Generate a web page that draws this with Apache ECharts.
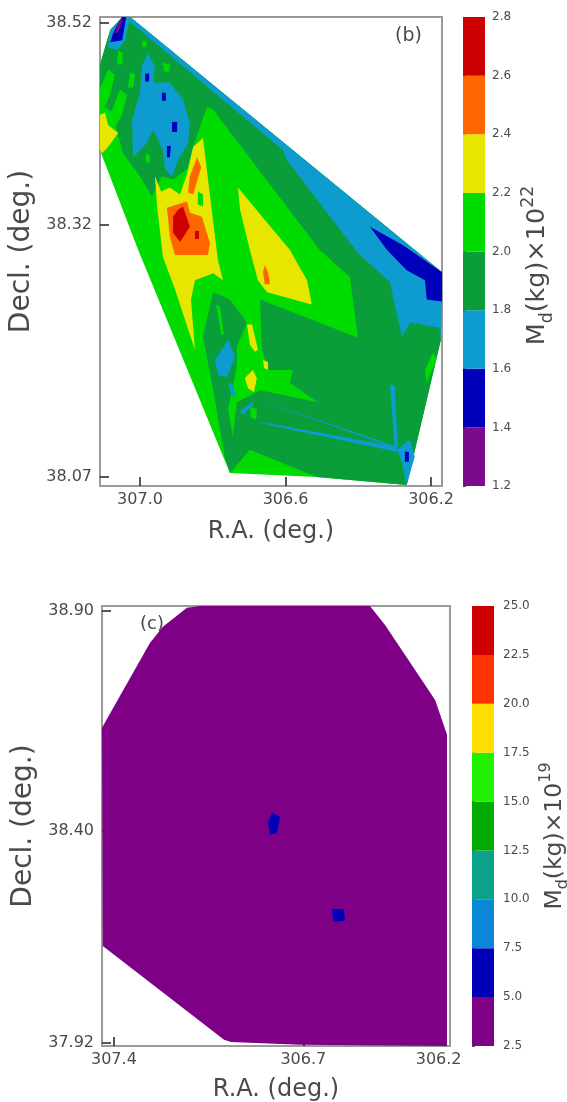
<!DOCTYPE html>
<html><head><meta charset="utf-8">
<style>html,body{margin:0;padding:0;background:#fff}#c{width:567px;height:1102px;filter:blur(0.6px)}</style>
<script src="https://cdn.jsdelivr.net/npm/echarts@6/dist/echarts.min.js"></script>
</head><body><div id="c"></div>
<script>
// ---------- colour scales ----------
const levelsB = [1.2,1.4,1.6,1.8,2.0,2.2,2.4,2.6,2.8];
const coloursB = ['#7b0a8c','#0000bb','#0d9bd0','#0a9e3a','#00dc00','#e6e600','#ff6600','#cc0000'];
const levelsC = [2.5,5,7.5,10,12.5,15,17.5,20,22.5,25];
const coloursC = ['#7d0087','#0000b8','#0a87d8','#0aa38a','#00aa00','#22f000','#ffdd00','#ff3300','#cc0000'];

// ---------- axis ticks ----------
const raTicksB = [307.0,306.6,306.2];
const decTicksB = [38.52,38.32,38.07];
const raTicksC = [307.4,306.7,306.2];
const decTicksC = [38.90,38.40,37.92];

// ---------- panel (b) contour regions, [R.A., Decl.], band = index into levelsB ----------
const outlineB = [[307.049,38.526],[307.027,38.526],[306.170,38.273],[306.173,38.206],[306.267,38.062],[306.514,38.070],[306.753,38.074],[307.005,38.295],[307.110,38.394],[307.110,38.479],[307.082,38.513]];
const darkB = [[307.049,38.525],[307.027,38.526],[306.170,38.273],[306.173,38.206],[306.267,38.062],[306.514,38.070],[306.698,38.097],[306.753,38.074],[306.767,38.090],[306.799,38.156],[306.827,38.209],[306.799,38.253],[306.753,38.246],[306.670,38.246],[306.401,38.208],[306.423,38.268],[306.506,38.295],[306.799,38.434],[306.816,38.437],[306.854,38.397],[306.871,38.375],[306.909,38.365],[306.940,38.368],[306.967,38.348],[307.000,38.368],[307.047,38.391],[307.077,38.432],[307.110,38.439],[307.110,38.479],[307.082,38.513]];
const brightColumnB = [[306.753,38.246],[306.706,38.259],[306.670,38.246],[306.665,38.196],[306.648,38.176],[306.580,38.176],[306.588,38.163],[306.511,38.144],[306.670,38.156],[306.734,38.144],[306.745,38.110],[306.758,38.137],[306.734,38.179],[306.734,38.199],[306.706,38.223]];
const bright1B = [[307.060,38.493],[307.047,38.490],[307.049,38.479],[307.063,38.479]];
const bright2B = [[307.088,38.474],[307.069,38.469],[307.082,38.449],[307.102,38.434],[307.110,38.439],[307.110,38.454]];
const bright3B = [[307.027,38.471],[307.014,38.469],[307.019,38.456],[307.033,38.456]];
const bright4B = [[307.055,38.454],[307.036,38.449],[307.049,38.429],[307.069,38.417],[307.082,38.429]];
const bright5B = [[306.992,38.503],[306.981,38.501],[306.984,38.496],[306.995,38.496]];
const bright6B = [[306.937,38.481],[306.918,38.479],[306.920,38.472],[306.934,38.472]];
const bright7B = [[306.984,38.391],[306.973,38.389],[306.973,38.381],[306.984,38.382]];
const bright8B = [[306.698,38.140],[306.679,38.137],[306.681,38.127],[306.695,38.129]];
const bright9B = [[306.195,38.193],[306.184,38.188],[306.212,38.163],[306.217,38.176]];
const bright10B = [[306.791,38.241],[306.780,38.239],[306.769,38.211],[306.777,38.211]];
const yellowEdgeB = [[307.110,38.429],[307.096,38.431],[307.088,38.419],[307.060,38.411],[307.088,38.397],[307.104,38.391],[307.110,38.394]];
const yellowLeftB = [[306.827,38.406],[306.786,38.285],[306.772,38.265],[306.799,38.272],[306.849,38.265],[306.860,38.246],[306.849,38.196],[306.904,38.256],[306.937,38.288],[306.953,38.338],[306.959,38.368],[306.942,38.353],[306.918,38.357],[306.890,38.350],[306.871,38.370],[306.854,38.397]];
const brightInYellowB = [[306.841,38.353],[306.827,38.350],[306.827,38.338],[306.841,38.340]];
const orangeLowB = [[306.926,38.337],[306.871,38.343],[306.863,38.332],[306.830,38.328],[306.808,38.302],[306.813,38.290],[306.904,38.290],[306.918,38.308]];
const orangeUpB = [[306.843,38.387],[306.832,38.377],[306.854,38.350],[306.868,38.352],[306.863,38.368]];
const redB = [[306.896,38.335],[306.882,38.338],[306.863,38.318],[306.890,38.303],[306.909,38.312],[306.909,38.328]];
const redDotB = [[306.849,38.314],[306.838,38.314],[306.838,38.306],[306.849,38.306]];
const yellowRightB = [[306.731,38.357],[306.588,38.295],[306.541,38.265],[306.528,38.241],[306.651,38.253],[306.676,38.265],[306.698,38.295],[306.725,38.335]];
const orangeSliverB = [[306.657,38.280],[306.648,38.273],[306.643,38.261],[306.657,38.261],[306.662,38.273]];
const yellow1B = [[306.706,38.221],[306.692,38.221],[306.676,38.196],[306.684,38.194],[306.698,38.201]];
const yellow2B = [[306.662,38.186],[306.648,38.184],[306.648,38.176],[306.659,38.178]];
const yellow3B = [[306.712,38.168],[306.690,38.176],[306.679,38.168],[306.687,38.154],[306.703,38.158]];
const skyDiagB = [[307.027,38.526],[306.170,38.273],[306.173,38.206],[306.176,38.218],[306.258,38.223],[306.280,38.209],[306.313,38.263],[306.401,38.292],[306.596,38.384],[306.607,38.394],[307.033,38.523]];
const blueDiagB = [[306.368,38.318],[306.278,38.300],[306.170,38.273],[306.170,38.244],[306.212,38.246],[306.217,38.265],[306.267,38.275],[306.321,38.295]];
const skyBlobB = [[306.978,38.490],[306.959,38.477],[306.964,38.461],[306.918,38.461],[306.882,38.444],[306.863,38.421],[306.868,38.401],[306.896,38.384],[306.912,38.368],[306.931,38.375],[306.937,38.394],[306.964,38.414],[306.981,38.401],[307.019,38.387],[307.022,38.424],[307.000,38.451],[306.995,38.477]];
const blueDot1B = [[306.986,38.470],[306.975,38.470],[306.975,38.462],[306.986,38.462]];
const blueDot2B = [[306.940,38.451],[306.929,38.451],[306.929,38.443],[306.940,38.443]];
const blueDot3B = [[306.912,38.422],[306.898,38.422],[306.898,38.412],[306.912,38.412]];
const blueDot4B = [[306.926,38.398],[306.915,38.398],[306.918,38.387],[306.926,38.387]];
const skyTopB = [[307.082,38.513],[307.049,38.526],[307.027,38.526],[307.041,38.503],[307.063,38.493],[307.088,38.496]];
const blueTopB = [[307.063,38.518],[307.049,38.526],[307.038,38.526],[307.049,38.503],[307.082,38.501],[307.074,38.510]];
const purpleTopB = [[307.055,38.523],[307.047,38.524],[307.060,38.511],[307.071,38.510]];
const skyLow1B = [[306.794,38.186],[306.758,38.206],[306.739,38.189],[306.761,38.169],[306.786,38.171]];
const skyLow2B = [[306.758,38.163],[306.745,38.161],[306.736,38.150],[306.747,38.150]];
const skyStrip1B = [[306.679,38.124],[306.643,38.123],[306.294,38.100],[306.294,38.095]];
const skyStrip2B = [[306.662,38.145],[306.651,38.144],[306.294,38.100],[306.294,38.098]];
const skyStrip3B = [[306.313,38.161],[306.300,38.161],[306.291,38.100],[306.300,38.100]];
const skyStrip4B = [[306.725,38.135],[306.692,38.144],[306.687,38.142],[306.717,38.132]];
const skyCornerB = [[306.294,38.097],[306.258,38.107],[306.245,38.090],[306.267,38.062],[306.280,38.084]];
const blueCornerB = [[306.272,38.095],[306.261,38.095],[306.261,38.085],[306.272,38.085]];

const regionsB = [
  [outlineB,4],[darkB,3],[brightColumnB,4],[bright1B,4],[bright2B,4],[bright3B,4],[bright4B,4],[bright5B,4],[bright6B,4],[bright7B,4],[bright8B,4],[bright9B,4],[bright10B,4],
  [yellowEdgeB,5],[yellowLeftB,5],[brightInYellowB,4],[orangeLowB,6],[orangeUpB,6],[redB,7],[redDotB,7],[yellowRightB,5],[orangeSliverB,6],[yellow1B,5],[yellow2B,5],[yellow3B,5],
  [skyDiagB,2],[blueDiagB,1],[skyBlobB,2],[blueDot1B,1],[blueDot2B,1],[blueDot3B,1],[blueDot4B,1],[skyTopB,2],[blueTopB,1],[purpleTopB,0],
  [skyLow1B,2],[skyLow2B,2],[skyStrip1B,2],[skyStrip2B,2],[skyStrip3B,2],[skyStrip4B,2],[skyCornerB,2],[blueCornerB,1]
];

// ---------- panel (c) contour regions ----------
const outlineC = [[307.444,38.634],[307.267,38.826],[307.219,38.863],[307.130,38.906],[307.082,38.910],[306.454,38.910],[306.398,38.867],[306.213,38.697],[306.169,38.618],[306.169,37.912],[306.712,37.915],[306.967,37.921],[306.993,37.926],[307.441,38.139]];
const spot1C = [[306.816,38.441],[306.786,38.432],[306.797,38.395],[306.823,38.391],[306.831,38.418]];
const spot2C = [[306.594,38.223],[306.550,38.223],[306.546,38.196],[306.590,38.194]];
const regionsC = [[outlineC,0],[spot1C,1],[spot2C,1]];

// ---------- drawing helpers ----------
const ink = '#4a4a4a', frame = '#9a9a9a', font = 'DejaVu Sans';
function contourSeries(regions, colours, i){
  return {type:'custom',xAxisIndex:i,yAxisIndex:i,coordinateSystem:'cartesian2d',clip:true,silent:true,
    data:regions.map((r,k)=>[k]),
    renderItem:(p,api)=>{
      const r = regions[api.value(0)];
      return {type:'polygon',shape:{points:r[0].map(c=>api.coord(c))},style:{fill:colours[r[1]]}};
    }};
}
function barSeries(levels, colours, i){
  return {type:'custom',xAxisIndex:i,yAxisIndex:i,coordinateSystem:'cartesian2d',silent:true,
    data:colours.map((c,k)=>[k]),
    renderItem:(p,api)=>{
      const k = api.value(0), a = api.coord([0,levels[k]]), b = api.coord([1,levels[k+1]]);
      return {type:'rect',shape:{x:a[0],y:b[1],width:b[0]-a[0],height:a[1]-b[1]},style:{fill:colours[k]}};
    }};
}
function xA(i,min,max,ticks,d){
  return {gridIndex:i,type:'value',inverse:true,min,max,name:'R.A. (deg.)',nameLocation:'middle',nameGap:d,
    nameTextStyle:{fontFamily:font,fontSize:24,color:ink},
    axisLine:{show:true,onZero:false,lineStyle:{color:frame,width:2}},
    axisTick:{show:true,inside:true,length:9,customValues:ticks,lineStyle:{color:'#222',width:1.5}},
    axisLabel:{customValues:ticks,formatter:v=>v.toFixed(1),fontFamily:font,fontSize:16,color:ink,margin:6},
    splitLine:{show:false}};
}
function yA(i,min,max,ticks,d){
  return {gridIndex:i,type:'value',min,max,name:'Decl. (deg.)',nameLocation:'middle',nameGap:d,nameRotate:90,
    nameTextStyle:{fontFamily:font,fontSize:28,color:ink},
    axisLine:{show:true,onZero:false,lineStyle:{color:frame,width:2}},
    axisTick:{show:true,inside:true,length:9,customValues:ticks,lineStyle:{color:'#222',width:1.5}},
    axisLabel:{customValues:ticks,formatter:v=>v.toFixed(2),fontFamily:font,fontSize:16,color:ink,margin:8},
    splitLine:{show:false}};
}
function barY(i,levels,dec,nameText,gap,size,labelSize,pad,margin){
  return {gridIndex:i,type:'value',position:'right',min:levels[0],max:levels[levels.length-1],
    name:nameText,nameLocation:'middle',nameGap:gap,nameRotate:90,
    nameTextStyle:{fontFamily:font,fontSize:size,color:ink,padding:pad,
      rich:{m:{fontFamily:font,fontSize:size,color:ink},
            s:{fontFamily:font,fontSize:size*0.68,color:ink,verticalAlign:'bottom',lineHeight:size*1.4},
            n:{fontFamily:font,fontSize:size,color:ink},
            p:{fontFamily:font,fontSize:size*0.68,color:ink,verticalAlign:'top',lineHeight:size*1.4}}},
    axisLine:{show:false},
    axisTick:{show:true,length:3,customValues:levels,lineStyle:{color:'#555',width:1}},
    axisLabel:{customValues:levels,formatter:v=>v.toFixed(dec),fontFamily:font,fontSize:labelSize,color:ink,margin},
    splitLine:{show:false}};
}
function barX(i){ return {gridIndex:i,type:'value',min:0,max:1,show:false}; }

const chart = echarts.init(document.getElementById('c'),null,{renderer:'canvas'});
chart.setOption({
  animation:false,backgroundColor:'#fff',
  grid:[
    {left:100,top:17,width:342,height:469,show:true,borderColor:frame,borderWidth:2,backgroundColor:'transparent',outerBoundsMode:'none'},
    {left:102,top:606,width:348,height:440,show:true,borderColor:frame,borderWidth:2,backgroundColor:'transparent',outerBoundsMode:'none'},
    {left:463,top:17,width:22,height:469,outerBoundsMode:'none'},
    {left:472,top:606,width:22,height:440,outerBoundsMode:'none'}
  ],
  xAxis:[xA(0,306.170,307.110,raTicksB,34),xA(1,306.158,307.444,raTicksC,32),barX(2),barX(3)],
  yAxis:[yA(0,38.061,38.526,decTicksB,58),yA(1,37.912,38.910,decTicksC,60),
    barY(2,levelsB,1,'{m|M}{s|d}{n|(kg)×10}{p|22}',35,25.5,12,[0,28,0,0],7),
    barY(3,levelsC,1,'{m|M}{s|d}{n|(kg)×10}{p|19}',44,23.5,12,[0,20,0,0],9)],
  series:[contourSeries(regionsB,coloursB,0),contourSeries(regionsC,coloursC,1),barSeries(levelsB,coloursB,2),barSeries(levelsC,coloursC,3)],
  graphic:[
    {type:'text',left:395,top:27,z:100,style:{text:'(b)',fontFamily:font,fontSize:19,fill:ink}},
    {type:'text',left:140,top:615,z:100,style:{text:'(c)',fontFamily:font,fontSize:18,fill:ink}}
  ]
});
</script></body></html>
